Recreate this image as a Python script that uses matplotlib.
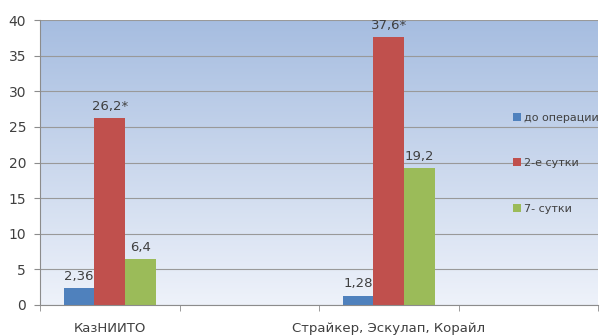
import matplotlib
matplotlib.use("Agg")
import matplotlib.pyplot as plt
import numpy as np
from matplotlib.colors import LinearSegmentedColormap

# data
CATS = ["КазНИИТО", "", "Страйкер, Эскулап, Корайл", ""]
SERIES = ["до операции", "2-е сутки", "7- сутки"]
BEFORE = [2.36, np.nan, 1.28, np.nan]
DAY2 = [26.2, np.nan, 37.6, np.nan]
DAY7 = [6.4, np.nan, 19.2, np.nan]
LABELS = [["2,36", "", "1,28", ""],
          ["26,2*", "", "37,6*", ""],
          ["6,4", "", "19,2", ""]]

COLORS = ["#4F81BD", "#C0504D", "#9BBB59"]
TXT = "#404040"

plt.rcParams.update({"font.family": "DejaVu Sans", "font.size": 9})

fig = plt.figure(figsize=(6.06, 3.36), dpi=100)
ax = fig.add_axes([40 / 606, 31 / 336, 558 / 606, 285 / 336])

# gradient background
cmap = LinearSegmentedColormap.from_list("bg", ["#EEF2FA", "#A6BDE0"])
grad = np.linspace(0, 1, 256).reshape(-1, 1)
ax.imshow(grad, cmap=cmap, aspect="auto", extent=[0, 1, 0, 1],
          transform=ax.transAxes, origin="lower", zorder=-2)

x = np.arange(len(CATS))
W = 0.22
for i, (vals, col) in enumerate(zip([BEFORE, DAY2, DAY7], COLORS)):
    bars = ax.bar(x + (i - 1) * W, vals, W, color=col, label=SERIES[i], zorder=2)
    for b, lab in zip(bars, LABELS[i]):
        if lab:
            ax.annotate(lab, (b.get_x() + b.get_width() / 2, b.get_height()),
                        xytext=(0, 4), textcoords="offset points",
                        ha="center", va="bottom", fontsize=9.5, color=TXT)

ax.set_xlim(-0.5, 3.5)
ax.set_ylim(0, 40)
ax.set_yticks(range(0, 41, 5))
ax.set_xticks(x)
ax.set_xticklabels(CATS, fontsize=9.5, color=TXT)
ax.set_xticks(np.arange(-0.5, 4, 1), minor=True)
ax.tick_params(axis="x", which="major", length=0, pad=12)
ax.tick_params(axis="x", which="minor", length=4, color="#8C8C8C", direction="out")
ax.tick_params(axis="y", length=4, color="#8C8C8C", labelsize=10, labelcolor=TXT, pad=6)
ax.yaxis.grid(True, color="#999999", lw=0.8, zorder=1)
ax.set_axisbelow(True)
for s in ["top", "right"]:
    ax.spines[s].set_visible(False)
for s in ["left", "bottom"]:
    ax.spines[s].set_color("#8C8C8C")

ax.legend(loc="upper left", bbox_to_anchor=(0.83, 0.71), frameon=False,
          fontsize=8, labelspacing=3.2, handlelength=0.7, handleheight=0.7,
          handletextpad=0.3, labelcolor=TXT)

fig.savefig("out.png", dpi=100)
